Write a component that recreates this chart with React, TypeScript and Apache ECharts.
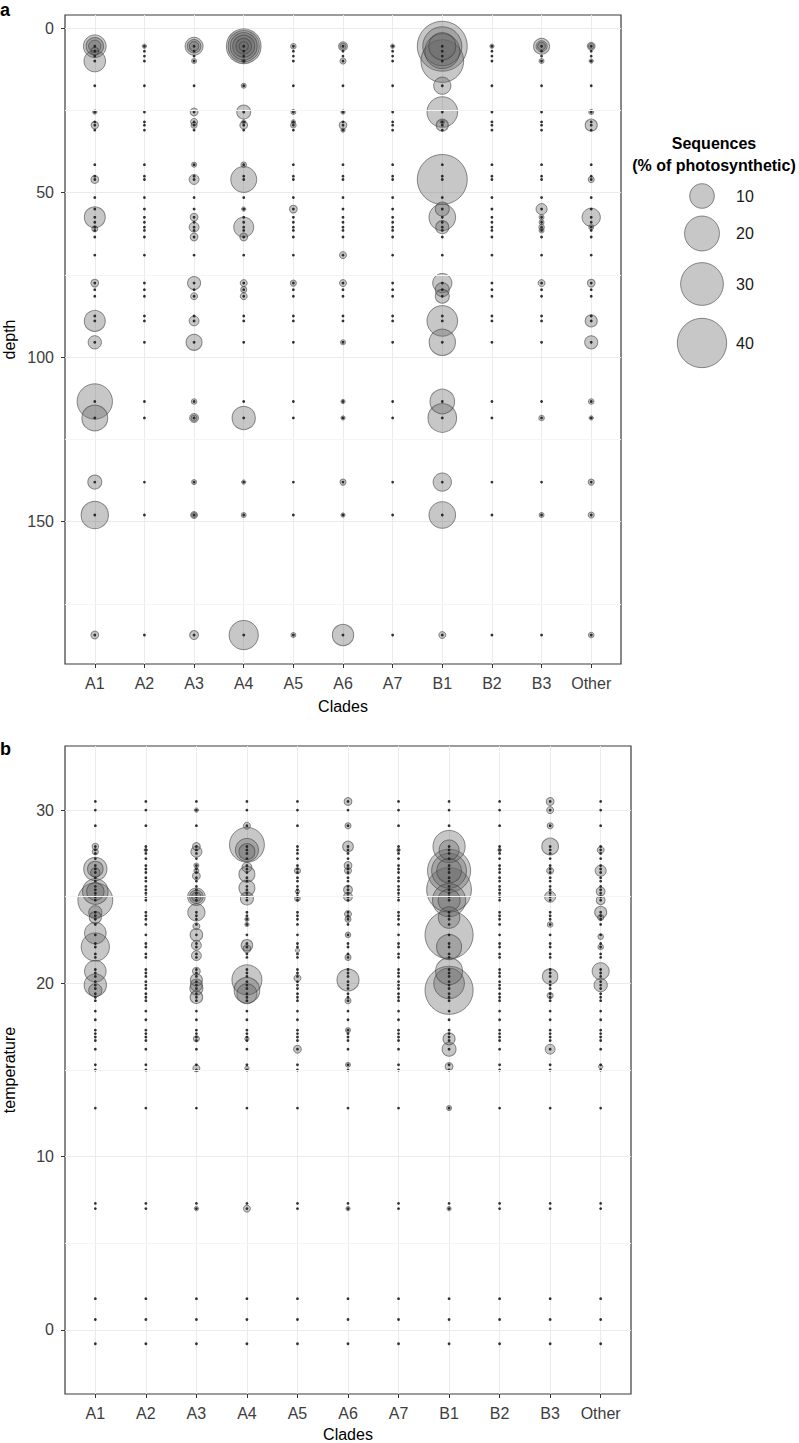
import React, { useEffect, useRef } from "react";
import * as echarts from "echarts";

// ---------- data ----------
const clades = ["A1", "A2", "A3", "A4", "A5", "A6", "A7", "B1", "B2", "B3", "Other"];
const depthTicks = [0, 50, 100, 150];
const depthMinor = [25, 75, 125, 175];
const tempTicks = [0, 10, 20, 30];
const tempMinor = [5, 15, 25];
const legendValues = [10, 20, 30, 40];

// sample depths / temperatures (every clade has a point at each sample)
const depthSamples = [5.5, 7, 8.5, 10, 17.5, 25.5, 28.5, 29.5, 31, 41.5, 45, 46, 51.5, 55, 57.5, 59, 60.5, 61.5, 63.5, 69, 77.5, 79.5, 81.5, 87.5, 89, 95.5, 113.5, 118.5, 138, 148, 184.5];
const tempSamples = [30.5, 30.0, 29.1, 27.9, 27.7, 27.5, 27.2, 26.8, 26.6, 26.4, 26.1, 25.9, 25.6, 25.4, 25.2, 25.0, 24.8, 24.1, 23.9, 23.7, 23.4, 22.8, 22.3, 22.1, 21.7, 21.5, 20.8, 20.6, 20.4, 20.1, 19.9, 19.7, 19.4, 19.2, 19.0, 18.4, 17.9, 17.3, 17.1, 16.9, 16.7, 16.2, 15.3, 15.0, 12.8, 7.3, 7.0, 1.8, 0.6, -0.8];

// panel a: [depth, % of photosynthetic]
const depthA1 = [[5.5, 8.5], [5.5, 5], [5.5, 2.5], [7, 1], [10, 7.7], [25.5, 0.3], [29.5, 0.9], [46, 1], [57.5, 7.2], [61, 0.6], [77.5, 1], [89, 7.2], [95.5, 2.9], [113.5, 20.5], [118.5, 11], [138, 3.2], [148, 12.3], [184.5, 1]];
const depthA2 = [[5.5, 0.3]];
const depthA3 = [[5.5, 5.3], [5.5, 3], [5.5, 1.5], [10, 0.4], [25.5, 1], [28.5, 0.8], [29.5, 0.6], [41.5, 0.4], [46, 1.6], [57.5, 1], [60.5, 1.6], [63.5, 1], [77.5, 2.8], [81.5, 0.8], [89, 1.6], [95.5, 4.2], [113.5, 0.5], [118.5, 1.3], [118.5, 0.6], [138, 0.4], [148, 0.8], [148, 0.4], [184.5, 1.3]];
const depthA4 = [[5.5, 19.8], [5.5, 16], [5.5, 12], [5.5, 8], [5.5, 4], [5.5, 1.5], [10, 0.3], [17.5, 0.4], [25.5, 3.2], [28.5, 0.3], [29.5, 1], [41.5, 0.5], [46, 11.1], [55, 0.3], [60.5, 6.6], [63.5, 1], [77.5, 0.8], [79.5, 0.6], [81.5, 0.8], [118.5, 8.9], [138, 0.3], [148, 0.4], [184.5, 14.1]];
const depthA5 = [[5.5, 0.5], [25.5, 0.4], [28.5, 0.3], [29.5, 0.5], [55, 1], [77.5, 0.6], [184.5, 0.4]];
const depthA6 = [[5.5, 1.3], [5.5, 0.6], [10, 0.6], [25.5, 0.3], [29.5, 1], [31, 0.3], [69, 0.8], [77.5, 0.8], [95.5, 0.4], [113.5, 0.3], [118.5, 0.3], [138, 0.6], [148, 0.3], [184.5, 7.5]];
const depthA7 = [[5.5, 0.3]];
const depthB1 = [[5.5, 41], [5.5, 25], [7, 20], [5.5, 12], [10, 30], [17.5, 4.9], [25.5, 15.5], [28.5, 0.3], [29.5, 2.4], [46, 41], [55, 3.2], [57.5, 11.7], [60.5, 2.8], [77.5, 6.1], [79.5, 3.2], [81.5, 3.2], [89, 15.5], [95.5, 11.4], [113.5, 10], [118.5, 13.5], [138, 5.5], [148, 11.7], [184.5, 0.8]];
const depthB2 = [[5.5, 0.3]];
const depthB3 = [[5.5, 4.2], [5.5, 2], [5.5, 1], [10, 0.4], [55, 2], [57.5, 0.4], [59, 0.4], [60.5, 0.5], [61.5, 0.4], [77.5, 0.8], [118.5, 0.5], [148, 0.4]];
const depthOther = [[5.5, 1], [5.5, 0.5], [10, 0.3], [25.5, 0.4], [29.5, 2.4], [46, 0.6], [57.5, 5.5], [60.5, 0.4], [77.5, 1], [89, 2.4], [95.5, 2.8], [113.5, 0.5], [118.5, 0.3], [138, 0.6], [148, 0.6], [184.5, 0.5]];

// panel b: [temperature, % of photosynthetic]
const tempA1 = [[27.9, 0.7], [27.6, 0.6], [26.6, 8.9], [26.6, 4], [26.4, 1.5], [25.3, 10.8], [25.3, 5], [24.8, 20], [24.1, 2.9], [23.8, 2.4], [22.9, 7.7], [22.1, 13.2], [20.7, 7.7], [19.9, 8.2], [19.6, 2.9]];
const tempA2 = [[27.7, 0.2]];
const tempA3 = [[30.0, 0.3], [27.9, 1], [27.6, 2], [26.8, 0.4], [26.5, 0.4], [26.2, 1], [25.0, 5.1], [25.0, 3], [25.0, 1.5], [24.1, 4.9], [23.3, 0.8], [22.8, 2.6], [22.2, 1.6], [21.6, 1.6], [20.7, 1], [20.2, 2.4], [19.9, 2.4], [19.7, 2.8], [19.2, 2.6], [16.8, 0.6], [15.1, 0.8], [7.0, 0.3]];
const tempA4 = [[29.1, 0.8], [28.0, 20], [27.7, 8.8], [27.6, 4.2], [26.7, 1.6], [26.3, 4.2], [25.5, 4.2], [24.9, 2.8], [23.7, 0.3], [23.4, 0.3], [22.2, 2.2], [22.0, 1], [20.2, 14.8], [19.6, 10.8], [19.4, 6.6], [16.8, 0.3], [15.1, 0.3], [7.0, 0.8]];
const tempA5 = [[26.5, 0.6], [25.3, 0.3], [24.9, 0.5], [21.9, 0.3], [20.3, 0.8], [16.2, 1]];
const tempA6 = [[30.5, 1], [29.1, 0.6], [27.9, 1.9], [26.8, 1], [26.5, 0.8], [25.4, 1.3], [25.0, 1.3], [24.0, 0.8], [23.7, 0.6], [22.8, 0.5], [21.5, 0.6], [20.2, 8], [19.0, 0.6], [17.3, 0.4], [15.3, 0.4], [7.0, 0.3]];
const tempA7 = [[27.7, 0.2]];
const tempB1 = [[27.9, 17], [27.7, 6.6], [26.5, 30.5], [26.5, 20], [26.5, 10], [25.4, 33], [24.8, 18], [24.8, 8], [23.8, 7.7], [22.8, 38], [22.1, 10.3], [20.7, 12], [20.0, 15.5], [19.6, 38], [16.8, 2.4], [16.2, 3.2], [15.2, 1], [12.8, 0.4], [7.0, 0.3]];
const tempB2 = [[27.7, 0.2]];
const tempB3 = [[30.5, 1], [30.0, 0.8], [29.1, 0.6], [27.9, 4.6], [26.5, 0.8], [25.0, 2], [23.4, 0.5], [20.4, 3.9], [19.3, 0.6], [16.2, 1.6]];
const tempOther = [[27.7, 0.8], [26.5, 2], [25.3, 1.3], [24.8, 1.3], [24.1, 2.4], [23.8, 0.6], [22.7, 0.5], [22.1, 0.5], [20.7, 4.8], [19.9, 2.9], [15.2, 0.3]];

const depthByClade = [depthA1, depthA2, depthA3, depthA4, depthA5, depthA6, depthA7, depthB1, depthB2, depthB3, depthOther];
const tempByClade = [tempA1, tempA2, tempA3, tempA4, tempA5, tempA6, tempA7, tempB1, tempB2, tempB3, tempOther];

// ---------- styles / layout ----------
const FONT = '"Liberation Sans", Arial, Helvetica, sans-serif';
const W = 799;
const H = 1443;
const panelA = { left: 65, top: 15, width: 556, height: 649 };
const panelB = { left: 65, top: 746, width: 566, height: 648 };
const BUBBLE_FILL = "rgba(100,100,100,0.36)";
const BUBBLE_STROKE = "rgba(60,60,60,0.58)";
const sizeOf = (v: number) => Math.max(2.2, 7.8 * Math.sqrt(v));

const bubbleData = (byClade: number[][][]) =>
  byClade
    .flatMap((arr, i) => arr.map(([y, v]) => [i, y, v]))
    .sort((a, b) => b[2] - a[2]);
const dotData = (samples: number[]) => clades.flatMap((_, i) => samples.map((y) => [i, y]));

const cladeIdx = clades.map((_, i) => i);

function xAxisFor(gridIndex: number) {
  return {
    type: "value",
    gridIndex,
    min: -0.6,
    max: 10.6,
    axisLine: { show: false, onZero: false },
    axisTick: { show: true, customValues: cladeIdx, length: 4, lineStyle: { color: "#333", width: 1 } },
    axisLabel: {
      show: true,
      customValues: cladeIdx,
      formatter: (v: number) => clades[Math.round(v)] ?? "",
      color: "#3d3d3d",
      fontSize: 16,
      fontFamily: FONT,
      margin: 11,
    },
    splitLine: { show: true, lineStyle: { color: "#ebebeb", width: 1 } },
  };
}

function yAxisFor(gridIndex: number, min: number, max: number, ticks: number[], inverse: boolean) {
  return {
    type: "value",
    gridIndex,
    min,
    max,
    inverse,
    axisLine: { show: false, onZero: false },
    axisTick: { show: true, customValues: ticks, length: 4, lineStyle: { color: "#333", width: 1 } },
    axisLabel: { show: true, customValues: ticks, color: "#3d3d3d", fontSize: 16, fontFamily: FONT, margin: 11 },
    splitLine: { show: true, lineStyle: { color: "#ebebeb", width: 1 } },
  };
}

function minorLines(xAxisIndex: number, yAxisIndex: number, values: number[]) {
  return {
    type: "line",
    xAxisIndex,
    yAxisIndex,
    data: [],
    z: 1,
    silent: true,
    markLine: {
      silent: true,
      symbol: ["none", "none"],
      label: { show: false },
      lineStyle: { color: "#f4f4f4", width: 1, type: "solid" },
      emphasis: { disabled: true },
      data: values.map((v) => ({ yAxis: v })),
    },
  };
}

function bubbleSeries(xAxisIndex: number, yAxisIndex: number, byClade: number[][][]) {
  return {
    type: "scatter",
    xAxisIndex,
    yAxisIndex,
    z: 3,
    silent: true,
    data: bubbleData(byClade),
    symbol: "circle",
    symbolSize: (val: number[]) => sizeOf(val[2]),
    itemStyle: { color: BUBBLE_FILL, borderColor: BUBBLE_STROKE, borderWidth: 1, opacity: 1 },
  };
}

function dotSeries(xAxisIndex: number, yAxisIndex: number, samples: number[]) {
  return {
    type: "scatter",
    xAxisIndex,
    yAxisIndex,
    z: 4,
    silent: true,
    data: dotData(samples),
    symbol: "circle",
    symbolSize: 2.8,
    itemStyle: { color: "#1c1c1c", opacity: 0.9 },
  };
}

function buildGraphic() {
  const g: any[] = [];
  const textStyle = (text: string, extra: any = {}) => ({
    text,
    fontFamily: FONT,
    fontSize: 16,
    fill: "#000",
    ...extra,
  });
  g.push({ type: "text", x: 0, y: 10, style: textStyle("a", { fontSize: 18, fontWeight: "bold", textVerticalAlign: "middle" }) });
  g.push({ type: "text", x: 0, y: 748.5, style: textStyle("b", { fontSize: 18, fontWeight: "bold", textVerticalAlign: "middle" }) });
  // axis titles
  g.push({
    type: "text",
    x: 9,
    y: panelA.top + panelA.height / 2,
    rotation: Math.PI / 2,
    style: textStyle("depth", { textAlign: "center", textVerticalAlign: "middle" }),
  });
  g.push({
    type: "text",
    x: 9,
    y: panelB.top + panelB.height / 2,
    rotation: Math.PI / 2,
    style: textStyle("temperature", { textAlign: "center", textVerticalAlign: "middle" }),
  });
  g.push({
    type: "text",
    x: panelA.left + panelA.width / 2,
    y: panelA.top + panelA.height + 42,
    style: textStyle("Clades", { textAlign: "center", textVerticalAlign: "middle" }),
  });
  g.push({
    type: "text",
    x: panelB.left + panelB.width / 2,
    y: panelB.top + panelB.height + 40,
    style: textStyle("Clades", { textAlign: "center", textVerticalAlign: "middle" }),
  });
  // size legend
  const lx = 714;
  g.push({ type: "text", x: lx, y: 143, style: textStyle("Sequences", { fontWeight: "bold", textAlign: "center", textVerticalAlign: "middle" }) });
  g.push({ type: "text", x: lx, y: 165, style: textStyle("(% of photosynthetic)", { fontWeight: "bold", textAlign: "center", textVerticalAlign: "middle" }) });
  const legendY = [196, 233.5, 284, 343];
  legendValues.forEach((v, i) => {
    g.push({
      type: "circle",
      shape: { cx: 702, cy: legendY[i], r: sizeOf(v) / 2 },
      style: { fill: BUBBLE_FILL, stroke: BUBBLE_STROKE, lineWidth: 1 },
      silent: true,
    });
    g.push({ type: "text", x: 736, y: legendY[i], style: textStyle(String(v), { fill: "#1a1a1a", textVerticalAlign: "middle" }) });
  });
  return g;
}

export default function App() {
  const ref = useRef<HTMLDivElement>(null);
  useEffect(() => {
    document.body.style.margin = "0";
    if (!ref.current) return;
    const chart = echarts.init(ref.current, undefined, { renderer: "svg" });
    const gridBase = { show: true, borderColor: "#3a3a3a", borderWidth: 1.2, backgroundColor: "#fff", containLabel: false, outerBoundsMode: "none" };
    chart.setOption({
      animation: false,
      backgroundColor: "#fff",
      textStyle: { fontFamily: FONT },
      grid: [
        { ...gridBase, ...panelA },
        { ...gridBase, ...panelB },
      ],
      xAxis: [xAxisFor(0), xAxisFor(1)],
      yAxis: [yAxisFor(0, -4, 193.3, depthTicks, true), yAxisFor(1, -3.7, 33.7, tempTicks, false)],
      series: [
        minorLines(0, 0, depthMinor),
        minorLines(1, 1, tempMinor),
        bubbleSeries(0, 0, depthByClade),
        bubbleSeries(1, 1, tempByClade),
        dotSeries(0, 0, depthSamples),
        dotSeries(1, 1, tempSamples),
      ],
      graphic: buildGraphic(),
    });
    return () => chart.dispose();
  }, []);
  return <div ref={ref} style={{ width: W, height: H }} />;
}
